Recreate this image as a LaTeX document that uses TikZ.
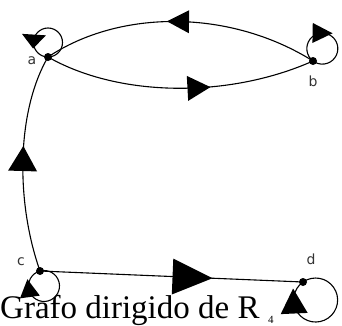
\documentclass[tikz,border=0pt]{standalone}
\usepackage{fontspec}
\setmainfont{Liberation Serif}
\newfontfamily\lblfont{DejaVu Sans}
\usetikzlibrary{decorations.markings}
\tikzset{
 vtx/.style={circle, fill=black, inner sep=0pt, minimum size=8pt},
 lbl/.style={font=\lblfont\fontsize{14}{14}\selectfont, text=black!80, inner sep=0pt},
 edgeline/.style={line width=1.1pt},
 tri/.style n args={3}{postaction={decorate}, decoration={markings, mark=at position #1 with {\fill (#2pt,0pt) -- (-#2pt,#3pt) -- (-#2pt,-#3pt) -- cycle;}}},
}
\begin{document}
\begin{tikzpicture}[x=1pt,y=1pt]
\useasboundingbox (0,0) rectangle (342,325);
\node[vtx] (a) at (48,268) {};
\node[vtx] (b) at (313,264) {};
\node[vtx] (c) at (40,54) {};
\node[vtx] (d) at (303,43) {};
\node[lbl] (la) at (32,264) {a};
\node[lbl] (lb) at (313,244) {b};
\node[lbl] (lc) at (21,63) {c};
\node[lbl] (ld) at (311,66) {d};
% edges
\draw[edgeline, tri={0.51}{11}{11.5}] (b.center) .. controls (230,316) and (120,316) .. (a.center);
\draw[edgeline, tri={0.57}{11.5}{12.5}] (a.center) .. controls (120,227) and (230,227) .. (b.center);
\draw[edgeline, tri={0.52}{12.5}{14.5}] (c.center) .. controls (15,125) and (17,215) .. (a.center);
\draw[edgeline, tri={0.58}{20}{18}] (c.center) -- (d.center);
% loops
\draw[edgeline, tri={0.74}{7}{12}] (a.center) arc[start angle=270, delta angle=360, radius=14.5];
\draw[edgeline, tri={0.40}{10}{10}] (b.center) arc[start angle=233, delta angle=-360, radius=15.5];
\draw[edgeline, tri={0.77}{9}{10}] (c.center) arc[start angle=105, delta angle=-360, radius=15.5];
\draw[edgeline, tri={0.84}{12.5}{13.5}] (d.center) arc[start angle=125, delta angle=-360, radius=22];
% caption
\node[anchor=base west, inner sep=0pt, font=\fontsize{33}{33}\selectfont] (cap) at (0,7) {Grafo dirigido de R};
\node[anchor=base west, inner sep=0pt, font=\fontsize{11}{11}\selectfont] (sub) at (268,2) {4};
\end{tikzpicture}
\end{document}
